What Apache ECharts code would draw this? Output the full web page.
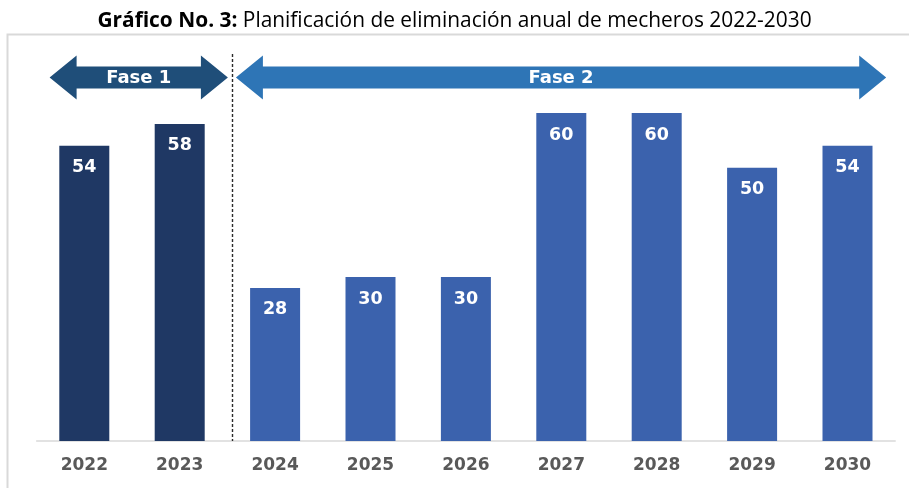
<!DOCTYPE html>
<html>
<head>
<meta charset="utf-8">
<script src="https://cdn.jsdelivr.net/npm/echarts@6/dist/echarts.min.js"></script>
<style>html,body{margin:0;padding:0;background:#fff;}#c{width:909px;height:488px;}</style>
</head>
<body>
<div id="c"></div>
<script>
// ---- data ----
const years = ['2022','2023','2024','2025','2026','2027','2028','2029','2030'];
const values = [54, 58, 28, 30, 30, 60, 60, 50, 54];
const phaseNames = ['Fase 1', 'Fase 2'];
const phaseStart = [0, 2];   // first category index of each phase
const phaseEnd = [1, 8];     // last category index of each phase
const titleBold = 'Gráfico No. 3:';
const titleRest = ' Planificación de eliminación anual de mecheros 2022-2030';

// ---- styles ----
const barColors = ['#1f3864', '#3b62ad'];
const arrowColors = ['#1f4e79', '#2e75b6'];
const ARROW_Y = 77.5, SHAFT_H = 11, HEAD_H = 22, HEAD_L = 27;

function phaseOf(i) {
  for (let p = 0; p < phaseStart.length; p++) if (i >= phaseStart[p] && i <= phaseEnd[p]) return p;
  return 0;
}

const barData = values.map((v, i) => ({ value: v, itemStyle: { color: barColors[phaseOf(i)] } }));
const phaseData = phaseStart.map((s, p) => [s, phaseEnd[p], p]);

function arrowPoints(x1, x2, y) {
  return [
    [x1, y],
    [x1 + HEAD_L, y - HEAD_H],
    [x1 + HEAD_L, y - SHAFT_H],
    [x2 - HEAD_L, y - SHAFT_H],
    [x2 - HEAD_L, y - HEAD_H],
    [x2, y],
    [x2 - HEAD_L, y + HEAD_H],
    [x2 - HEAD_L, y + SHAFT_H],
    [x1 + HEAD_L, y + SHAFT_H],
    [x1 + HEAD_L, y + HEAD_H]
  ];
}

const chart = echarts.init(document.getElementById('c'));
chart.setOption({
  animation: false,
  title: {
    left: 'center', top: 6,
    text: '{b|' + titleBold + '}{r|' + titleRest + '}',
    textStyle: {
      rich: {
        b: { fontFamily: 'Open Sans', fontWeight: 'bold', fontSize: 20.9, color: '#000' },
        r: { fontFamily: 'Open Sans', fontWeight: 'normal', fontSize: 20.9, color: '#000' }
      }
    }
  },
  graphic: [{
    type: 'rect', z: -10,
    shape: { x: 7.5, y: 34.5, width: 960, height: 600 },
    style: { fill: 'none', stroke: '#d9d9d9', lineWidth: 2 }
  }],
  grid: { left: 36.6, right: 13.8, top: 113, bottom: 47 },
  xAxis: {
    type: 'category', data: years,
    axisLine: { lineStyle: { color: '#d9d9d9', width: 1.5 } },
    axisTick: { show: false },
    axisLabel: { color: '#595959', fontFamily: 'DejaVu Sans', fontWeight: 'bold', fontSize: 17, margin: 16 }
  },
  yAxis: { type: 'value', min: 0, max: 60, show: false, splitLine: { show: false } },
  series: [
    {
      type: 'bar', data: barData, barWidth: 50,
      label: {
        show: true, position: 'insideTop', distance: 13,
        color: '#fff', fontFamily: 'DejaVu Sans', fontWeight: 'bold', fontSize: 17.5
      }
    },
    {
      type: 'custom', data: phaseData, clip: false, z: 5,
      renderItem: function (params, api) {
        const p = api.value(2);
        const band = api.size([1, 0])[0];
        const leftB = api.coord([api.value(0), 0])[0] - band / 2;
        const rightB = api.coord([api.value(1), 0])[0] + band / 2;
        const baseY = api.coord([0, 0])[1];
        const children = [];
        let x1, x2;
        if (p === 0) { x1 = leftB + 13; } else { x1 = leftB + 4.5 + 4; }
        if (p === phaseStart.length - 1) { x2 = rightB - 9; } else { x2 = rightB + 4.5 - 4; }
        children.push({
          type: 'polygon',
          shape: { points: arrowPoints(x1, x2, ARROW_Y) },
          style: { fill: arrowColors[p] }
        });
        children.push({
          type: 'text',
          style: {
            text: phaseNames[p], x: (x1 + x2) / 2, y: ARROW_Y + 1,
            align: 'center', verticalAlign: 'middle',
            fill: '#fff', font: 'bold 18px "DejaVu Sans"'
          }
        });
        if (p > 0) {
          const lx = Math.round(leftB + 4.5) + 0.5;
          children.push({
            type: 'line',
            shape: { x1: lx, y1: 54, x2: lx, y2: baseY },
            style: { stroke: '#2a2a2a', lineWidth: 1.4, lineDash: [3, 2] }
          });
        }
        return { type: 'group', children: children };
      }
    }
  ]
});
</script>
</body>
</html>
